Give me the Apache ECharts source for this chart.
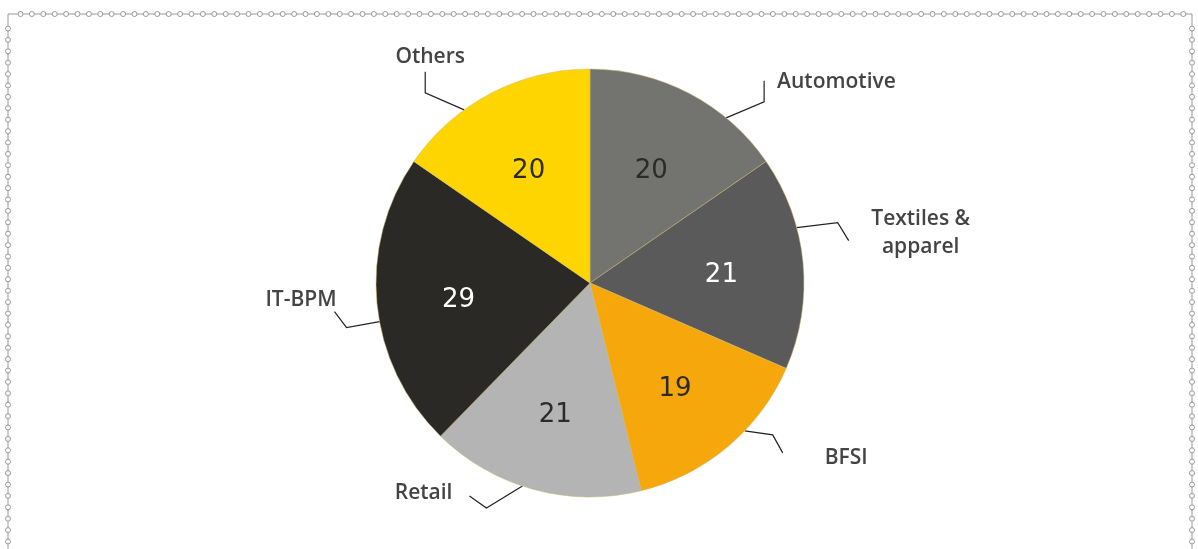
<!DOCTYPE html>
<html>
<head>
<meta charset="utf-8">
<title>Pie</title>
<script src="https://cdn.jsdelivr.net/npm/echarts@6/dist/echarts.min.js"></script>
<style>
  html, body { margin: 0; padding: 0; background: #fff; }
  #chartmain { width: 1198px; height: 549px; }
</style>
</head>
<body>
<div id="chartmain"></div>
<script type="text/javascript">
// data
var sectors = ['Automotive', 'Textiles &\napparel', 'BFSI', 'Retail', 'IT-BPM', 'Others'];
var values = [20, 21, 19, 21, 29, 20];
var colors = ['#737370', '#5a5a5a', '#f6a70b', '#b3b4b3', '#2b2926', '#fed500'];
var numColors = ['#2b2b2b', '#ffffff', '#2b2b2b', '#2b2b2b', '#ffffff', '#2b2b2b'];

var myChart = echarts.init(document.getElementById('chartmain'));

var cx = 590, cy = 283, R = 214;

// leader lines: angle on the rim (deg, clockwise from top), bend & end offsets, label offset from end
var leaders = [
    { a: 39.5, bend: [38, -16], end: [38, -37], lab: [13, 1], align: 'left' },
    { a: 75, bend: [41, -5], end: [52, 13], lab: [72, -8], align: 'center' },
    { a: 133.7, bend: [28, 4], end: [38, 22], lab: [42, 5], align: 'left' },
    { a: 198.4, bend: [-36, 22], end: [-53, 10], lab: [-17, -3], align: 'right' },
    { a: 259.6, bend: [-33, 6], end: [-45, -10], lab: [2, -12], align: 'right' },
    { a: 324, bend: [-39, -17], end: [-39, -38], lab: [5, -15], align: 'center' }
];

var pieData = sectors.map(function (name, i) {
    return { name: name, value: values[i], itemStyle: { color: colors[i] } };
});
var numData = sectors.map(function (name, i) {
    return { name: name, value: values[i], label: { color: numColors[i] } };
});

// dotted chain border
var chain = [];
var x0 = 8, y0 = 14, x1 = 1192, gap = 11.4;
chain.push({ type: 'polyline', shape: { points: [[x0, 560], [x0, y0], [x1, y0], [x1, 560]] },
    style: { stroke: '#9a9a9a', lineWidth: 1, fill: null }, silent: true });
for (var x = x0 + 12.5; x < x1 - 3; x += gap) {
    chain.push({ type: 'circle', shape: { cx: x, cy: y0, r: 2.5 }, style: { fill: '#fff', stroke: '#999', lineWidth: 1 }, silent: true });
}
for (var y = y0 + 14.5; y < 560; y += gap) {
    chain.push({ type: 'circle', shape: { cx: x0, cy: y, r: 2.5 }, style: { fill: '#fff', stroke: '#999', lineWidth: 1 }, silent: true });
    chain.push({ type: 'circle', shape: { cx: x1, cy: y, r: 2.5 }, style: { fill: '#fff', stroke: '#999', lineWidth: 1 }, silent: true });
}

myChart.setOption({
    backgroundColor: '#fff',
    animation: false,
    graphic: chain,
    series: [
        {
            name: 'sectors',
            type: 'pie',
            center: [cx, cy],
            radius: R,
            startAngle: 90,
            clockwise: true,
            data: pieData,
            itemStyle: { borderColor: '#cdb76a', borderWidth: 0.5 },
            label: {
                show: true,
                position: 'outside',
                formatter: '{b}',
                fontFamily: 'Open Sans',
                fontWeight: 600,
                fontSize: 21,
                lineHeight: 28,
                color: '#444444'
            },
            labelLine: {
                show: true,
                length: 20,
                length2: 20,
                lineStyle: { color: '#222', width: 1.2 }
            },
            labelLayout: function (params) {
                var L = leaders[params.dataIndex];
                var rad = L.a * Math.PI / 180;
                var ex = cx + R * Math.sin(rad), ey = cy - R * Math.cos(rad);
                var bx = ex + L.bend[0], by = ey + L.bend[1];
                var tx = ex + L.end[0], ty = ey + L.end[1];
                return {
                    x: tx + L.lab[0],
                    y: ty + L.lab[1],
                    align: L.align,
                    verticalAlign: 'middle',
                    labelLinePoints: [[ex, ey], [bx, by], [tx, ty]]
                };
            }
        },
        {
            name: 'numbers',
            type: 'pie',
            center: [cx, cy],
            radius: [44, R],
            startAngle: 90,
            clockwise: true,
            silent: true,
            data: numData,
            itemStyle: { color: 'rgba(0,0,0,0)' },
            label: {
                show: true,
                position: 'inside',
                formatter: '{c}',
                fontFamily: 'DejaVu Sans',
                fontSize: 26
            },
            labelLine: { show: false },
            labelLayout: { dy: 5 }
        }
    ]
});
</script>
</body>
</html>
